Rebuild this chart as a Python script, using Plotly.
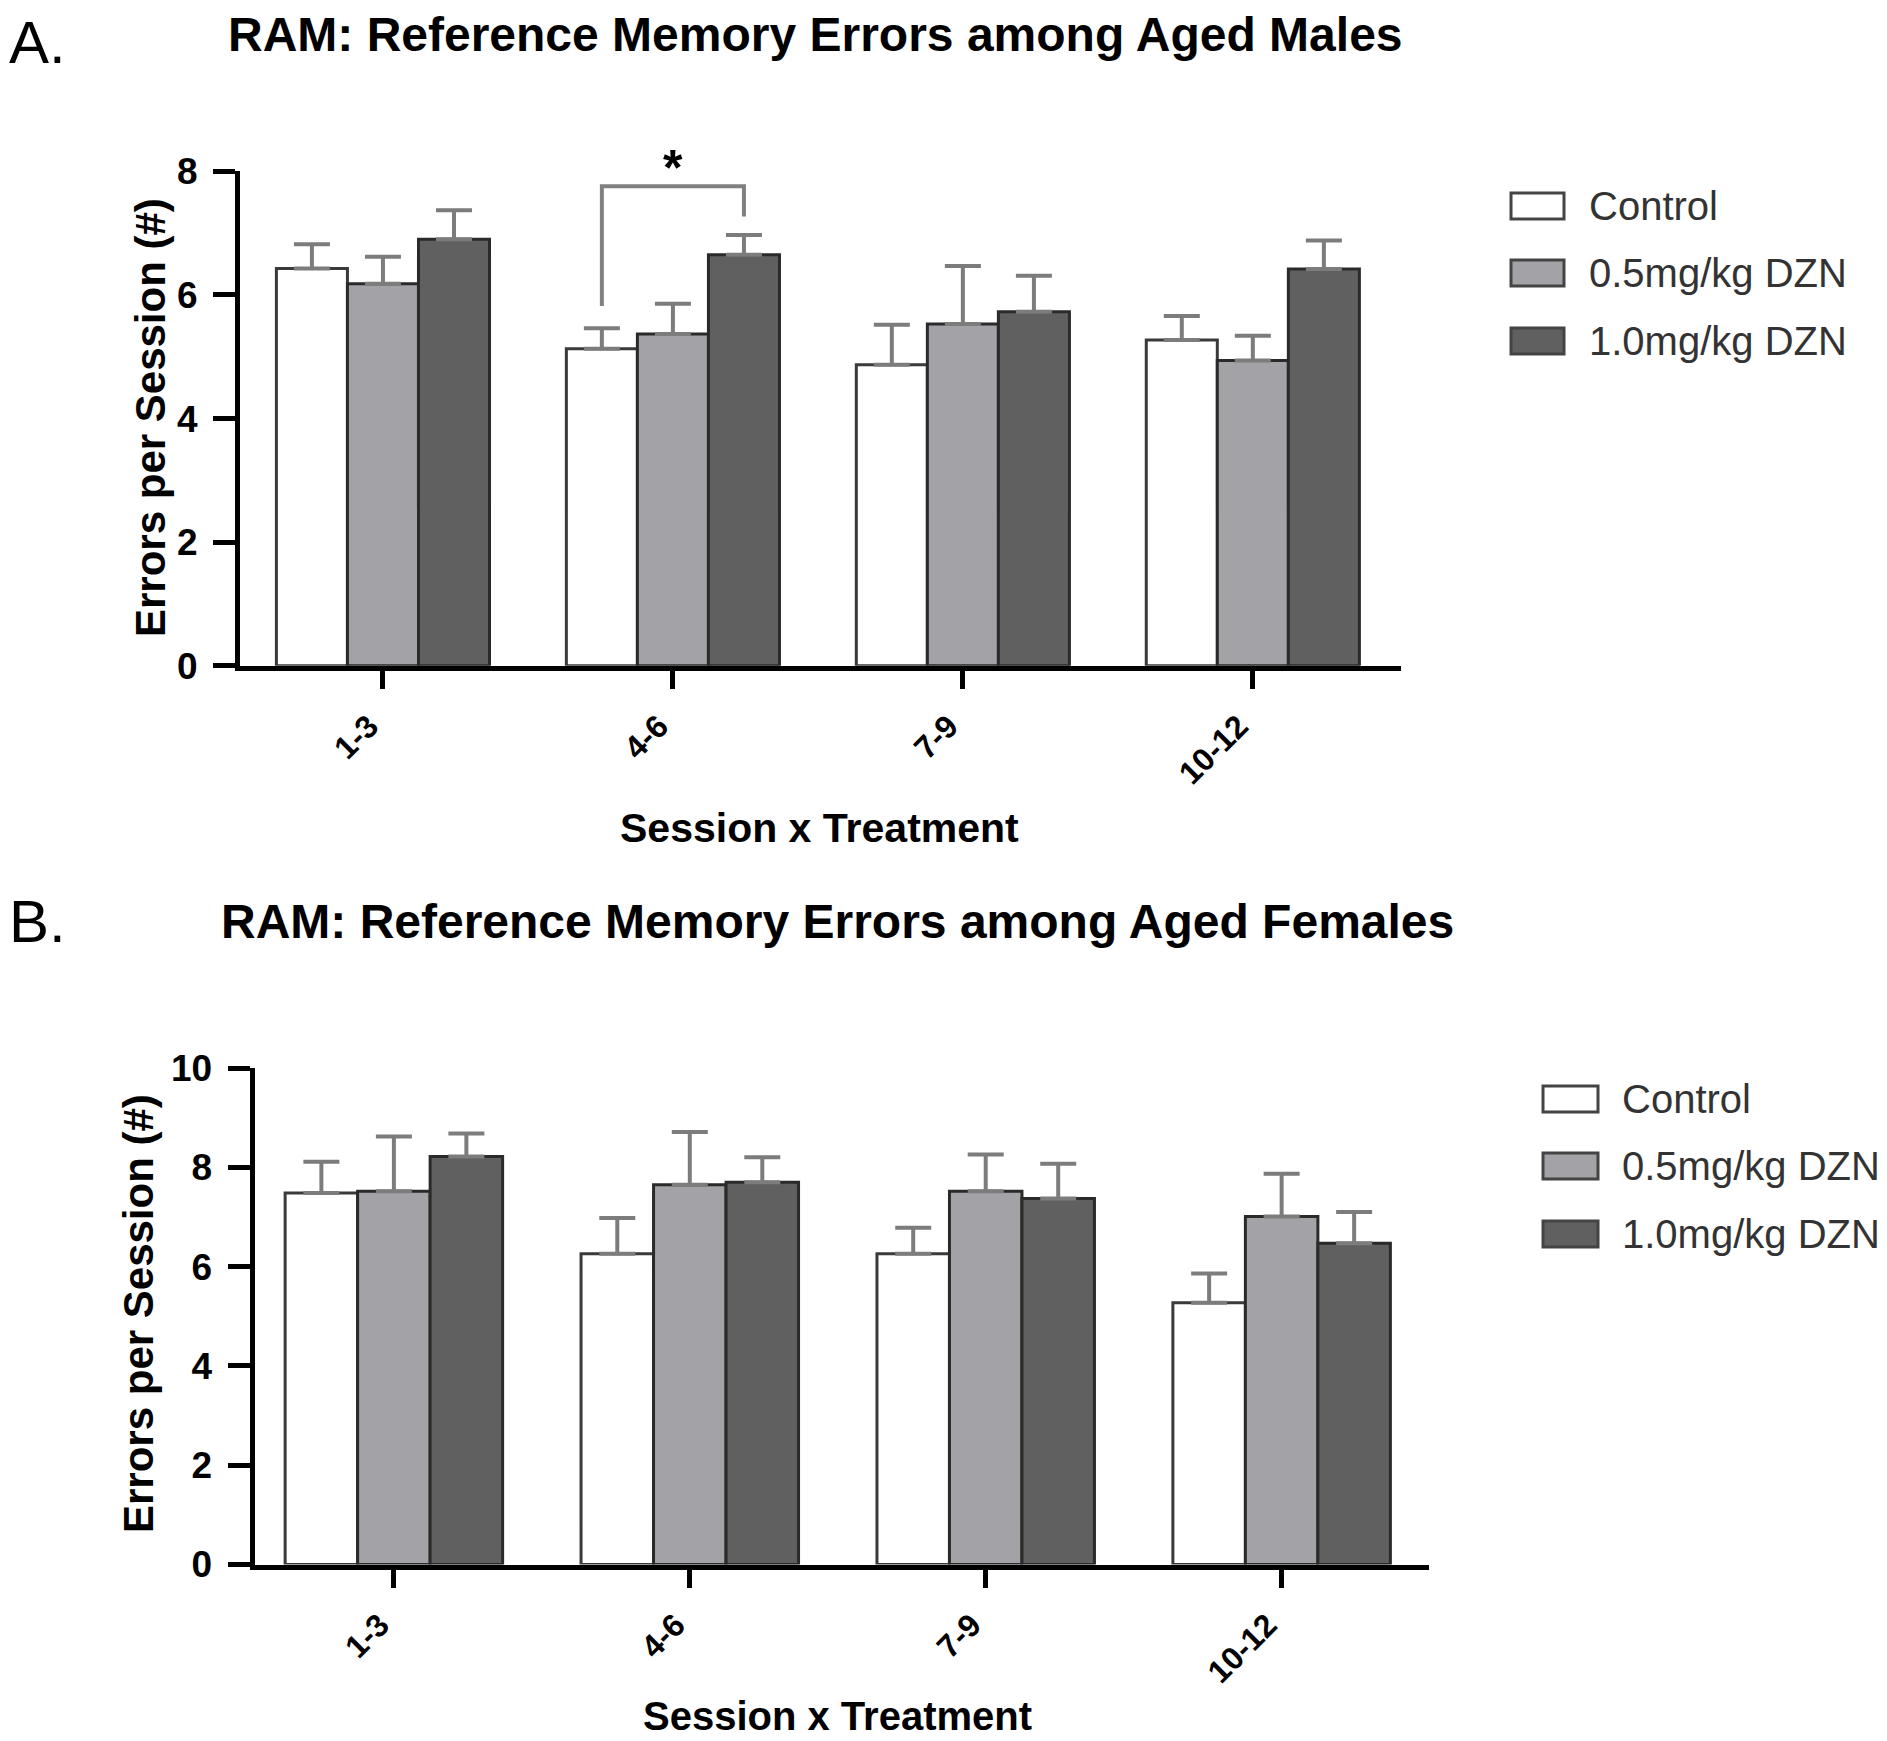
import plotly.graph_objects as go

W, H = 1887, 1741
# the page body shifts the figure slightly; compensate so marks land where intended
OFFX, OFFY = 5, 8

sessions = ["1-3", "4-6", "7-9", "10-12"]
groups = ["Control", "0.5mg/kg DZN", "1.0mg/kg DZN"]

# Panel A: aged males (mean, SEM)
males_control = [6.43, 5.13, 4.87, 5.27]
males_control_sem = [0.39, 0.33, 0.65, 0.39]
males_low = [6.18, 5.37, 5.53, 4.94]
males_low_sem = [0.44, 0.49, 0.94, 0.40]
males_high = [6.90, 6.65, 5.73, 6.42]
males_high_sem = [0.47, 0.32, 0.58, 0.46]

# Panel B: aged females (mean, SEM)
females_control = [7.48, 6.26, 6.26, 5.27]
females_control_sem = [0.63, 0.72, 0.52, 0.59]
females_low = [7.52, 7.65, 7.52, 7.01]
females_low_sem = [1.10, 1.06, 0.74, 0.86]
females_high = [8.22, 7.70, 7.37, 6.47]
females_high_sem = [0.46, 0.50, 0.70, 0.63]

# significance bracket (panel A, session 4-6): left foot, top, right foot
bracket_y = [5.82, 7.76, 7.27]

fills = ["#ffffff", "#a2a2a7", "#606060"]
outlines = ["#3a3a3a", "#2a2a2a", "#2a2a2a"]
BARGAP = 0.265
FONT = "Liberation Sans, Arial, sans-serif"

fig = go.Figure()
xpos = list(range(len(sessions)))

panels = [
    ("x", "y", [males_control, males_low, males_high],
     [males_control_sem, males_low_sem, males_high_sem]),
    ("x2", "y2", [females_control, females_low, females_high],
     [females_control_sem, females_low_sem, females_high_sem]),
]
for xa, ya, means, sems in panels:
    for i, g in enumerate(groups):
        fig.add_trace(go.Bar(
            x=xpos, y=means[i], name=g, xaxis=xa, yaxis=ya,
            offsetgroup=str(i), showlegend=False,
            marker=dict(color=fills[i], line=dict(color=outlines[i], width=3)),
            error_y=dict(type="data", array=sems[i], arrayminus=[0] * 4,
                         symmetric=False, color="#7c7c7c", thickness=4, width=18),
        ))

def px_x(p):
    return (p - OFFX) / W

def px_y(p):
    return 1 - (p - OFFY) / H

axis_common = dict(
    showline=True, linecolor="black", linewidth=5, ticks="outside",
    tickcolor="black", tickwidth=5, showgrid=False, zeroline=False,
    automargin=False,
)
xt_font = dict(family=FONT, size=32, color="black", weight="bold")
yt_font = dict(family=FONT, size=37, color="black", weight="bold")

fig.update_layout(
    template="none",
    width=W, height=H, margin=dict(l=0, r=0, t=0, b=0, pad=0, autoexpand=False),
    paper_bgcolor="white", plot_bgcolor="white", showlegend=False,
    barmode="group", bargap=BARGAP, bargroupgap=0,
    xaxis=dict(domain=[px_x(237), px_x(1398)], range=[-0.493, 3.511],
               tickvals=xpos, ticktext=sessions, tickangle=-45, ticklen=18,
               ticklabelstandoff=6, ticklabelshift=-14, anchor="y",
               tickfont=xt_font, **axis_common),
    yaxis=dict(domain=[px_y(665.7), px_y(171.4)], range=[0, 8],
               tickvals=[0, 2, 4, 6, 8], ticklen=22, ticklabelstandoff=8,
               anchor="x", tickfont=yt_font, **axis_common),
    xaxis2=dict(domain=[px_x(251.5), px_x(1426)], range=[-0.471, 3.498],
                tickvals=xpos, ticktext=sessions, tickangle=-45, ticklen=18,
                ticklabelstandoff=6, ticklabelshift=-14, anchor="y2",
                tickfont=xt_font, **axis_common),
    yaxis2=dict(domain=[px_y(1564.5), px_y(1068)], range=[0, 10],
                tickvals=[0, 2, 4, 6, 8, 10], ticklen=22, ticklabelstandoff=8,
                anchor="x2", tickfont=yt_font, **axis_common),
)

# significance bracket
w = (1 - BARGAP) / 3
x_left, x_right = 1 - w, 1 + w
fig.add_shape(type="path", xref="x", yref="y",
              path=f"M {x_left} {bracket_y[0]} L {x_left} {bracket_y[1]} "
                   f"L {x_right} {bracket_y[1]} L {x_right} {bracket_y[2]}",
              line=dict(color="#808080", width=4))
fig.add_annotation(x=1, y=bracket_y[1], xref="x", yref="y", text="*", showarrow=False,
                   font=dict(family=FONT, size=50, color="black", weight="bold"),
                   yanchor="bottom", yshift=-12)

def text(x, y, s, size, bold=True, angle=0, xanchor="center", yanchor="middle",
         color="black"):
    fig.add_annotation(x=px_x(x), y=px_y(y), xref="paper", yref="paper", text=s,
                       showarrow=False, textangle=angle, xanchor=xanchor,
                       yanchor=yanchor, borderpad=0,
                       font=dict(family=FONT, size=size, color=color,
                                 weight="bold" if bold else "normal"))

text(OFFX, OFFY, "A.", 60, bold=False, xanchor="left", yanchor="top")
text(812, 35, "RAM: Reference Memory Errors among Aged Males", 48)
text(816, 828, "Session x Treatment", 41)
text(148, 418, "Errors per Session (#)", 42, angle=-90)

text(OFFX, 921, "B.", 60, bold=False, xanchor="left")
text(834, 921, "RAM: Reference Memory Errors among Aged Females", 48)
text(834, 1716, "Session x Treatment", 40)
text(135, 1314, "Errors per Session (#)", 42, angle=-90)

# legends
def legend(x0, x1, ys, tx):
    for i, g in enumerate(groups):
        fig.add_shape(type="rect", xref="paper", yref="paper",
                      x0=px_x(x0), x1=px_x(x1), y0=px_y(ys[i] + 13), y1=px_y(ys[i] - 13),
                      fillcolor=fills[i], line=dict(color="#444444", width=3))
        text(tx, ys[i], g, 40, bold=False, xanchor="left", color="#333333")

legend(1508, 1561, [206, 273, 341], 1585)
legend(1540, 1595, [1099, 1166, 1234], 1618)

fig.write_html("out.html")
